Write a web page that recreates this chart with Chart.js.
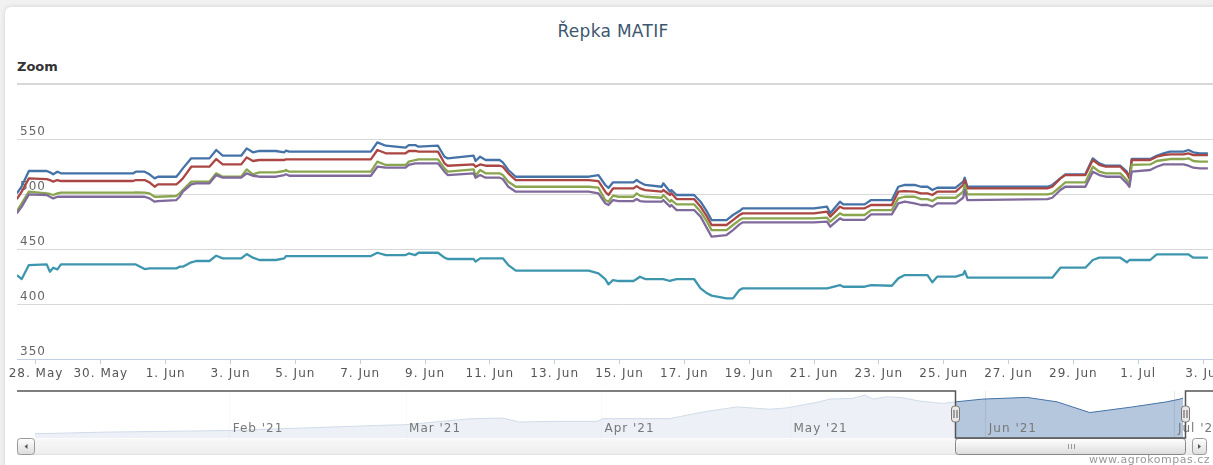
<!DOCTYPE html>
<html lang="cs">
<head>
<meta charset="utf-8">
<title>Řepka MATIF</title>
<script src="https://cdn.jsdelivr.net/npm/chart.js@4.4.1/dist/chart.umd.min.js"></script>
<style>
  html, body { margin:0; padding:0; width:1213px; height:465px; overflow:hidden; background:#f1f1f1; font-family:'DejaVu Sans', sans-serif; }
  .karta { position:absolute; left:5px; top:7px; width:1260px; height:520px; background:#fff; border-radius:6px; box-shadow:0 0 5px rgba(0,0,0,0.13); }
  #nadpis { position:absolute; left:0; top:20px; width:1226px; text-align:center; font-size:17px; line-height:22px; color:#3E576F; letter-spacing:0.3px; }
  #zoom { position:absolute; left:17px; top:59px; font-size:13px; line-height:16px; font-weight:bold; color:#333; }
  #grafCanvas { position:absolute; left:0; top:0; }
  #navCanvas { position:absolute; left:0; top:385px; }
  #zdroj { position:absolute; right:3px; top:453px; font-size:11px; line-height:14px; letter-spacing:0.5px; color:#999; }
</style>
</head>
<body>
<div class="karta"></div>
<div id="nadpis">Řepka MATIF</div>
<div id="zoom">Zoom</div>
<canvas id="grafCanvas" width="1228" height="385"></canvas>
<canvas id="navCanvas" width="1240" height="80"></canvas>
<div id="zdroj">www.agrokompas.cz</div>

<script>
// ---------- DATA (dny od 28. 5. 2021) ----------
const casy = [
  -0.59, -0.44, -0.22, 0.33, 0.43, 0.53, 0.66, 0.77, 3.0, 3.08,
  3.35, 3.5, 3.66, 3.76, 4.33, 4.43, 4.53, 4.79, 4.94, 5.35,
  5.56, 5.76, 6.33, 6.5, 6.69, 6.89, 7.4, 7.66, 7.71, 7.81,
  10.33, 10.53, 10.79, 11.4, 11.5, 11.7, 11.8, 12.4, 12.6, 12.7,
  13.5, 13.56, 13.7, 13.87, 14.3, 14.4, 14.57, 14.8, 17.05, 17.35,
  17.56, 17.66, 17.8, 17.97, 18.43, 18.53, 18.63, 18.79, 19.3, 19.35,
  19.56, 19.6, 19.76, 20.3, 20.5, 20.7, 20.84, 21.3, 21.5, 21.7,
  21.8, 24.0, 24.4, 24.5, 24.8, 24.9, 25.56, 25.76, 26.4, 26.6,
  26.8, 27.1, 27.3, 27.5, 27.65, 27.8, 28.37, 28.6, 28.65, 28.73,
  31.2, 31.35, 31.6, 31.75, 32.37, 32.6, 32.8, 33.0, 33.45, 33.65,
  33.73, 33.8, 34.37, 34.57, 34.78, 34.98, 35.4, 35.55, 35.7, 35.9,
  36.15
];

const rada1 = [
  500.6, 507, 520.9, 520.9, 519.7, 517.9, 520.3, 518.8, 518.8, 520.3,
  520.3, 517.9, 514.2, 515.7, 515.7, 519.4, 523.3, 532.4, 532.4, 532.4,
  540.0, 534.8, 534.8, 541.5, 537.9, 539.1, 539.1, 537.9, 539.4, 538.5,
  538.5, 546.9, 543.9, 542.1, 544.5, 544.5, 543, 543.9, 533.9, 532.4,
  534.8, 530.0, 533.9, 530.9, 530.9, 528.8, 521.8, 515.7, 515.7, 517.2,
  508.2, 505.5, 510.6, 510.6, 510.6, 512.7, 510.6, 508.2, 506.6, 509.7,
  502.1, 503.6, 499.1, 499.1, 493, 483.9, 476.3, 476.3, 480.9, 484.5,
  486.9, 486.9, 488.5, 482.4, 493, 490.6, 490.6, 494.5, 494.5, 506.6,
  508.2, 508.2, 506.6, 506.6, 503.6, 505.7, 505.7, 511.2, 514.8, 506.6,
  506.6, 508.2, 514.2, 517.9, 517.9, 532.4, 527.9, 525.7, 525.7, 520.3,
  514.8, 531.8, 531.8, 534.8, 537, 538.5, 538.5, 540, 537.9, 537,
  537
];

const rada2 = [
  495.4, 502.1, 514.2, 513.6, 512.7, 511.2, 512.7, 511.8, 511.8, 512.7,
  512.7, 510.6, 506.6, 508.8, 508.8, 511.2, 514.2, 524.8, 524.8, 524.8,
  531.8, 526.9, 526.9, 533.3, 530.0, 530.9, 530.9, 530.9, 531.5, 531.5,
  531.5, 540, 537, 537, 539.1, 539.1, 538.5, 538.5, 527.9, 525.7,
  526.9, 524.8, 526.9, 525.7, 525.7, 524.8, 518.8, 512.7, 512.7, 511.8,
  502.1, 499.1, 505.1, 505.1, 505.1, 507.2, 505.1, 503.6, 502.1, 503.6,
  499.1, 500.6, 495.4, 495.4, 488.5, 479.4, 471.8, 471.8, 476.3, 480.9,
  482.4, 482.4, 483.9, 479.4, 488.5, 487, 487, 490, 490, 502.1,
  502.7, 502.1, 500.6, 500.6, 499.1, 502.1, 502.1, 508.2, 512.7, 505.1,
  505.1, 506.6, 514.2, 517.2, 517.2, 530.9, 526.4, 524.8, 524.8, 518.8,
  514.2, 530.9, 530.9, 533.9, 535.4, 536, 536, 537, 535.4, 535.4,
  535.4
];

const rada3 = [
  484.5, 491.5, 502.1, 500.6, 500, 499.1, 500.6, 501.2, 501.2, 501.5,
  501.2, 500.6, 497.5, 497.5, 498.2, 500.6, 503.6, 511.2, 511.2, 511.2,
  518.8, 515.7, 515.7, 522.4, 517.9, 519.7, 519.7, 520.9, 521.8, 520.3,
  520.3, 529.4, 526.4, 526.4, 529.4, 530.9, 531.5, 531.5, 523.3, 520.3,
  522.4, 516.6, 521.8, 518.8, 518.8, 517.2, 511.2, 506.6, 506.6, 505.7,
  494.5, 493, 498.5, 497.5, 497.5, 500.6, 498.5, 497.5, 496.6, 499.1,
  493, 494.5, 490.6, 490.6, 483.9, 474.8, 467.2, 467.2, 471.8, 476.3,
  477.9, 477.9, 478.5, 474.8, 482.4, 480.9, 480.9, 485.4, 485.4, 496,
  497.5, 497.5, 495.4, 495.4, 493.6, 496.6, 496.6, 502.1, 508.2, 499.7,
  499.7, 500.6, 506.6, 510.6, 510.6, 524.8, 520.3, 518.8, 518.8, 512.7,
  508.8, 526.4, 526.9, 530, 530.9, 531.8, 531.8, 532.4, 530, 529.4,
  529.4
];

const rada4 = [
  482.4, 488.5, 499.7, 499.1, 497.5, 496, 497.5, 497.5, 497.5, 497.5,
  497.5, 496, 493, 493.6, 494.5, 497.5, 502.1, 508.8, 509.7, 509.7,
  517.2, 514.8, 514.8, 518.8, 516.6, 515.7, 515.7, 517.2, 517.9, 516.6,
  516.6, 524.8, 523.9, 523.9, 526.4, 527.9, 527.9, 527.9, 520.3, 517.2,
  518.8, 514.8, 517.2, 514.8, 514.8, 513.6, 506.6, 502.1, 502.1, 500.6,
  491.5, 490, 494.5, 493.6, 493.6, 495.4, 493.6, 493, 493, 494.5,
  488.5, 490, 485.4, 485.4, 479.4, 468.8, 461.2, 462.7, 467.2, 472.4,
  474.2, 474.2, 474.8, 470.3, 477.9, 476.4, 476.4, 481.5, 481.5, 491.5,
  493, 491.5, 490, 490, 488.5, 491.5, 491.5, 496.6, 503.6, 494.5,
  495.4, 496.6, 503.6, 506.6, 506.6, 520.3, 517.2, 515.7, 515.7, 509.7,
  506.6, 520.3, 521.8, 524.8, 526.9, 526.9, 526.9, 525.7, 523.9, 523.3,
  523.3
];

const rada5 = [
  426.3, 422.7, 435.4, 436.0, 429.4, 433.0, 431.5, 436.0, 436.0, 436.0,
  431.8, 432.4, 432.4, 432.4, 432.4, 433.9, 433.9, 437.9, 439.1, 439.1,
  443.9, 441.5, 441.5, 445.4, 442.1, 440.0, 440.0, 441.5, 443.6, 443.6,
  443.6, 446.6, 444.5, 444.5, 446.0, 444.5, 446.6, 446.6, 442.1, 440.9,
  440.9, 438.5, 441.5, 441.5, 441.5, 441.5, 435.4, 430.3, 430.3, 427.8,
  422.7, 417.9, 421.8, 420.9, 420.9, 422.7, 424.8, 422.7, 422.7, 422.7,
  420.9, 421.5, 422.7, 422.7, 414.2, 409.7, 407.6, 405.1, 405.1, 412.7,
  414.2, 414.2, 414.2, 414.8, 417.2, 415.7, 415.7, 417.2, 416.6, 423.3,
  426.3, 426.3, 426.3, 426.3, 419.7, 424.8, 424.8, 426.9, 430.0, 423.9,
  423.9, 423.9, 433.0, 433.0, 433.0, 440.0, 442.1, 442.1, 442.1, 437.9,
  440.0, 440.0, 440.0, 445.1, 445.1, 445.1, 445.1, 445.1, 442.1, 442.1,
  442.1
];

// osy hlavního grafu
const dnyOsy = [0, 2, 4, 6, 8, 10, 12, 14, 16, 18, 20, 22, 24, 26, 28, 30, 32, 34, 36];
const yTicky = [350, 400, 450, 500, 550, 600];
const mesice = ['Jan','Feb','Mar','Apr','May','Jun','Jul','Aug','Sep','Oct','Nov','Dec'];

// navigátor (dny od 1. 1. 2021)
const navDny = [
  0.05, 10.4, 31, 42.1, 54.3, 58.8, 69.1, 74.3, 77, 82.3,
  89.3, 90.2, 100.8, 106.1, 111.5, 116.7, 119.4, 124.6, 126.2, 129.9,
  131.8, 133.1, 135.3, 137.8, 140.5, 144.2, 145.8, 150.5, 157.5, 162.3,
  167.5, 174.3, 179.7, 181.8, 182.3
];
const navHodnoty = [
  391.8, 398.5, 405.6, 415.3, 426.6, 429.6, 454, 457.3, 440.5, 443.5,
  443.5, 454.8, 454.8, 482.5, 503.5, 493.9, 499.3, 524.5, 535.9, 538.8,
  552.7, 535.9, 545.6, 541.4, 527.5, 517.8, 523.3, 535.9, 543, 524.5,
  480, 503.5, 524.5, 535.9, 540
];
const navMesiceDny = [31, 59, 90, 120, 151, 181];
const vyber = [146.1, 182.6];

const barvy = ['#4572A7', '#AA4643', '#89A54E', '#80699B', '#3D96AE'];

Chart.defaults.font.family = "'DejaVu Sans', sans-serif";

function datumPopisek(v){
  const d = new Date(2021, 4, 28 + v);
  return d.getDate() + '. ' + mesice[d.getMonth()];
}

function navPopisek(v){
  const d = new Date(2021, 0, 1 + v);
  return mesice[d.getMonth()] + " '" + String(d.getFullYear()).slice(2);
}

// proložení písma jako v originále (měří i kreslí stejný kontext)
const prolozeni = {
  id: 'prolozeni',
  beforeUpdate(chart){ chart.ctx.letterSpacing = '1px'; },
  beforeDraw(chart){ chart.ctx.letterSpacing = '1px'; }
};

// ---------- HLAVNÍ GRAF ----------
const rady = [rada1, rada2, rada3, rada4, rada5];
const datasety = rady.map((hodnoty, i) => ({
  data: casy.map((t, j) => ({ x: t, y: hodnoty[j] })),
  borderColor: barvy[i],
  borderWidth: 2.3,
  borderJoinStyle: 'round',
  pointRadius: 0,
  tension: 0,
  fill: false,
  order: rady.length - i
}));

new Chart(document.getElementById('grafCanvas'), {
  type: 'line',
  data: { datasets: datasety },
  options: {
    responsive: false,
    animation: false,
    layout: { padding: { left: 17, top: 84, right: 0, bottom: 0.6 } },
    plugins: { legend: { display: false }, tooltip: { enabled: false } },
    scales: {
      x: {
        type: 'linear', min: -0.586, max: 36.77,
        afterBuildTicks: (osa) => { osa.ticks = dnyOsy.map(v => ({ value: v })); },
        afterFit: (osa) => { osa.paddingLeft = 0; osa.paddingRight = 0; },
        ticks: { autoSkip: false, maxRotation: 0, padding: 3, color: '#555', font: { size: 12 },
          callback: (v) => datumPopisek(v) },
        grid: { drawOnChartArea: false, drawTicks: true, tickLength: 5, color: '#C0D0E0' },
        border: { color: '#C0D0E0' }
      },
      y: {
        min: 350, max: 600,
        afterBuildTicks: (osa) => { osa.ticks = yTicky.map(v => ({ value: v })); },
        afterFit: (osa) => { osa.width = 0; },
        ticks: { mirror: true, padding: 3, labelOffset: -7, color: '#666', font: { size: 12 },
          callback: (v) => v === 600 ? '' : String(v) },
        grid: {
          drawTicks: false,
          color: (c) => c.tick && c.tick.value === 350 ? '#C0D0E0' : '#D8D8D8',
          lineWidth: (c) => c.tick && c.tick.value === 600 ? 2 : 1
        },
        border: { display: false }
      }
    }
  },
  plugins: [prolozeni]
});

// ---------- NAVIGÁTOR + POSUVNÍK ----------
function zaoblenyObdelnik(ctx, x, y, w, h, r){
  ctx.beginPath();
  if(ctx.roundRect) ctx.roundRect(x, y, w, h, r);
  else ctx.rect(x, y, w, h);
}

function tlacitkoGradient(ctx, y, h){
  const g = ctx.createLinearGradient(0, y, 0, y + h);
  g.addColorStop(0, '#FFFFFF');
  g.addColorStop(1, '#DCDCDC');
  return g;
}

const navPlugin = {
  id: 'navigatorDoplnky',
  afterDraw(chart){
    const ctx = chart.ctx;
    const { left, right, top, bottom } = chart.chartArea;
    const sx = chart.scales.x;
    const x1 = Math.round(sx.getPixelForValue(vyber[0])) + 0.5;
    const x2 = Math.round(sx.getPixelForValue(vyber[1])) + 0.5;
    ctx.save();

    // maska mimo vybraný rozsah
    ctx.fillStyle = 'rgba(255,255,255,0.75)';
    ctx.fillRect(left, top, x1 - left, bottom - top);
    ctx.fillRect(x2, top, right - x2, bottom - top);

    // popisky měsíců
    ctx.font = "12px 'DejaVu Sans'";
    ctx.letterSpacing = '1px';
    ctx.fillStyle = '#777';
    ctx.textBaseline = 'middle';
    navMesiceDny.forEach(d => {
      ctx.fillText(navPopisek(d), sx.getPixelForValue(d) + 3, bottom - 9);
    });

    // posuvník
    const sy = bottom + 0.5, sh = 16;
    const gTrack = ctx.createLinearGradient(0, sy, 0, sy + sh);
    gTrack.addColorStop(0, '#F8F8F8');
    gTrack.addColorStop(1, '#EDEDED');
    ctx.fillStyle = gTrack;
    ctx.fillRect(left, sy, 1206 - left, sh);
    ctx.strokeStyle = '#E2E2E2';
    ctx.lineWidth = 1;
    ctx.beginPath(); ctx.moveTo(left, sy + sh); ctx.lineTo(1206, sy + sh); ctx.stroke();

    ctx.strokeStyle = '#999';
    zaoblenyObdelnik(ctx, left + 0.5, sy, 17, sh, 3);
    ctx.fillStyle = tlacitkoGradient(ctx, sy, sh); ctx.fill(); ctx.stroke();
    zaoblenyObdelnik(ctx, 1192.5, sy, 14, sh, 3);
    ctx.fillStyle = tlacitkoGradient(ctx, sy, sh); ctx.fill(); ctx.stroke();

    ctx.fillStyle = '#555';
    let cx = left + 9, cy = sy + sh / 2;
    ctx.beginPath(); ctx.moveTo(cx + 1.5, cy - 2.5); ctx.lineTo(cx + 1.5, cy + 2.5); ctx.lineTo(cx - 1.5, cy); ctx.fill();
    cx = 1199.5;
    ctx.beginPath(); ctx.moveTo(cx - 1.5, cy - 2.5); ctx.lineTo(cx - 1.5, cy + 2.5); ctx.lineTo(cx + 1.5, cy); ctx.fill();

    ctx.strokeStyle = '#888';
    zaoblenyObdelnik(ctx, x1, sy, x2 - x1, sh, 3);
    ctx.fillStyle = tlacitkoGradient(ctx, sy, sh); ctx.fill(); ctx.stroke();
    const gx = Math.round((x1 + x2) / 2) + 0.5;
    ctx.strokeStyle = '#999';
    ctx.beginPath();
    [-3, 0, 3].forEach(o => { ctx.moveTo(gx + o, cy - 2.5); ctx.lineTo(gx + o, cy + 2.5); });
    ctx.stroke();

    // obrys navigátoru
    ctx.strokeStyle = '#555';
    ctx.lineWidth = 1.5;
    ctx.beginPath();
    ctx.moveTo(left, top); ctx.lineTo(x1, top); ctx.lineTo(x1, bottom);
    ctx.lineTo(x2, bottom); ctx.lineTo(x2, top); ctx.lineTo(chart.width, top);
    ctx.stroke();

    // úchyty
    [x1, x2].forEach(x => {
      ctx.lineWidth = 1;
      ctx.strokeStyle = '#777';
      zaoblenyObdelnik(ctx, x - 4, top + 15, 8, 16, 3);
      ctx.fillStyle = '#EBE7E8'; ctx.fill(); ctx.stroke();
      ctx.strokeStyle = '#555';
      ctx.beginPath();
      ctx.moveTo(x - 1.5, top + 19); ctx.lineTo(x - 1.5, top + 27);
      ctx.moveTo(x + 1.5, top + 19); ctx.lineTo(x + 1.5, top + 27);
      ctx.stroke();
    });

    ctx.restore();
  }
};

new Chart(document.getElementById('navCanvas'), {
  type: 'line',
  data: {
    datasets: [{
      data: navDny.map((d, i) => ({ x: d, y: navHodnoty[i] })),
      borderColor: '#4572A7',
      borderWidth: 1,
      backgroundColor: 'rgba(69,114,167,0.4)',
      fill: 'start',
      pointRadius: 0,
      tension: 0
    }]
  },
  options: {
    responsive: false,
    animation: false,
    layout: { padding: { left: 17, top: 6, right: 50, bottom: 27 } },
    plugins: { legend: { display: false }, tooltip: { enabled: false } },
    scales: {
      x: {
        type: 'linear', min: -2.75, max: 183.4,
        afterBuildTicks: (osa) => { osa.ticks = navMesiceDny.map(v => ({ value: v })); },
        ticks: { display: false },
        grid: { drawTicks: false, color: '#E8E8E8' },
        border: { display: false }
      },
      y: { display: false, min: 374.5, max: 569.5 }
    }
  },
  plugins: [navPlugin]
});
</script>
</body>
</html>
